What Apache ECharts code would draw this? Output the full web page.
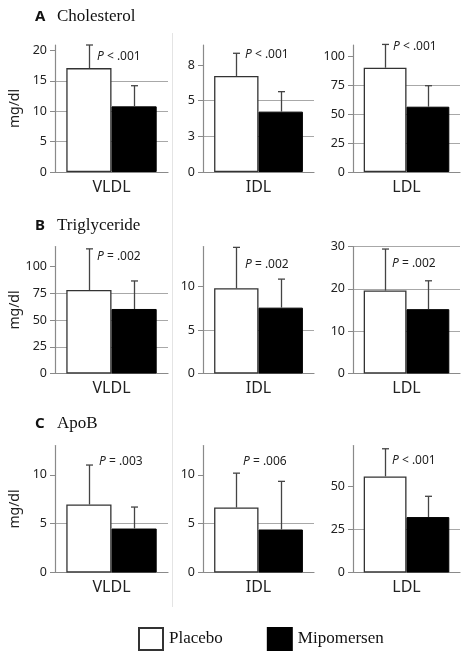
<!DOCTYPE html>
<html>
<head>
<meta charset="utf-8">
<script src="https://cdn.jsdelivr.net/npm/echarts@6/dist/echarts.min.js"></script>
<style>html,body{margin:0;padding:0;background:#fff;}#c{width:469px;height:662px;}</style>
</head>
<body>
<div id="c"></div>
<script>
// ---- data ----
const rowTitles = ['A', 'B', 'C'];
const rowNames = ['Cholesterol', 'Triglyceride', 'ApoB'];
const categories = ['VLDL', 'IDL', 'LDL'];
const seriesNames = ['Placebo', 'Mipomersen'];
const yUnit = 'mg/dl';

// mean values [VLDL, IDL, LDL]
const cholPlacebo = [17.1, 6.73, 89.9];
const cholMipo = [10.8, 4.23, 56.3];
const tgPlacebo = [78, 9.8, 19.6];
const tgMipo = [60.3, 7.57, 15.2];
const apobPlacebo = [6.96, 6.65, 56];
const apobMipo = [4.5, 4.4, 32.3];

// SD (upper error bar)
const cholPlaceboSD = [3.8, 1.59, 20.1];
const cholMipoSD = [3.4, 1.4, 18.1];
const tgPlaceboSD = [38.5, 4.7, 9.8];
const tgMipoSD = [26.2, 3.28, 6.7];
const apobPlaceboSD = [4.04, 3.52, 16.1];
const apobMipoSD = [2.2, 4.93, 12.1];

// p-value texts
const cholP = ['< .001', '< .001', '< .001'];
const tgP = ['= .002', '= .002', '= .002'];
const apobP = ['= .003', '= .006', '< .001'];

// axis maxima and ticks
const cholMax = [20.9, 8.9, 109.5];
const tgMax = [118.7, 14.6, 30];
const apobMax = [13, 13, 74];
const cholTicks = [[0, 5, 10, 15, 20], [0, 2.5, 5, 7.5], [0, 25, 50, 75, 100]];
const cholTickLabels = [['0', '5', '10', '15', '20'], ['0', '3', '5', '8'], ['0', '25', '50', '75', '100']];
const tgTicks = [[0, 25, 50, 75, 100], [0, 5, 10], [0, 10, 20, 30]];
const tgTickLabels = [['0', '25', '50', '75', '100'], ['0', '5', '10'], ['0', '10', '20', '30']];
const apobTicks = [[0, 5, 10], [0, 5, 10], [0, 25, 50]];
const apobTickLabels = [['0', '5', '10'], ['0', '5', '10'], ['0', '25', '50']];

const rows = [
  { placebo: cholPlacebo, mipo: cholMipo, psd: cholPlaceboSD, msd: cholMipoSD, p: cholP, max: cholMax, ticks: cholTicks, labels: cholTickLabels },
  { placebo: tgPlacebo, mipo: tgMipo, psd: tgPlaceboSD, msd: tgMipoSD, p: tgP, max: tgMax, ticks: tgTicks, labels: tgTickLabels },
  { placebo: apobPlacebo, mipo: apobMipo, psd: apobPlaceboSD, msd: apobMipoSD, p: apobP, max: apobMax, ticks: apobTicks, labels: apobTickLabels }
];

// ---- layout ----
const colLeft = [55, 203, 353];
const colWidth = [113, 111, 107];
const rowTop = [45, 246.5, 445.5];
const plotH = 127;
const titlePos = [[35, 18.5], [35, 227.5], [35, 425]];
const pPos = [
  [[97, 59], [245, 57], [393, 49]],
  [[97, 259], [245, 267], [392, 266]],
  [[99, 464], [243, 464], [392, 463]]
];

const chart = echarts.init(document.getElementById('c'));
const grids = [], xAxes = [], yAxes = [], series = [], graphics = [];
const sans = 'Noto Sans';
const serif = 'Liberation Serif';

function errRender(params, api) {
  const m = api.value(1), sd = api.value(2), side = api.value(3);
  const c = api.coord([api.value(0), m]);
  const t = api.coord([api.value(0), m + sd]);
  const cw = api.size([1, 0])[0];
  const bw = cw * 0.8 / 2;
  const x = Math.round(c[0] + side * bw / 2) + 0.5;
  const st = { stroke: '#444', lineWidth: 1.3 };
  return {
    type: 'group', children: [
      { type: 'line', shape: { x1: x, y1: c[1], x2: x, y2: t[1] }, style: st },
      { type: 'line', shape: { x1: x - 3.5, y1: t[1], x2: x + 3.5, y2: t[1] }, style: st }
    ]
  };
}

rows.forEach((r, ri) => {
  for (let ci = 0; ci < 3; ci++) {
    const gi = ri * 3 + ci;
    grids.push({ left: colLeft[ci], top: rowTop[ri], width: colWidth[ci], height: plotH });
    xAxes.push({
      type: 'category', gridIndex: gi, data: [categories[ci]],
      axisLine: { lineStyle: { color: '#8a8a8a', width: 1.2 } },
      axisTick: { show: false },
      axisLabel: { fontFamily: sans, fontSize: 16, color: '#222', margin: 7 }
    });
    const tv = r.ticks[ci], tl = r.labels[ci];
    const mx = r.max[ci];
    yAxes.push({
      type: 'value', gridIndex: gi, min: 0, max: mx, interval: tv[1] - tv[0],
      name: ci === 0 ? yUnit : '', nameLocation: 'middle', nameRotate: 90, nameGap: 33,
      nameTextStyle: { fontFamily: sans, fontSize: 14, color: '#222' },
      axisLine: { show: true, lineStyle: { color: '#8a8a8a', width: 1.2 } },
      axisTick: { show: true, length: 5, customValues: tv, lineStyle: { color: '#8a8a8a' } },
      axisLabel: {
        customValues: tv, fontFamily: sans, fontSize: 12.5, color: '#222', margin: 8,
        formatter: v => { const k = tv.indexOf(v); return k >= 0 ? tl[k] : ''; }
      },
      splitLine: { show: true, showMaxLine: tv[tv.length - 1] === mx, lineStyle: { color: '#a8a8a8', width: 1.2 } }
    });
    series.push({
      type: 'bar', name: seriesNames[0], xAxisIndex: gi, yAxisIndex: gi,
      data: [r.placebo[ci]], barGap: '0%', barCategoryGap: '20%',
      itemStyle: { color: '#ffffff', borderColor: '#333', borderWidth: 1.3 }
    });
    series.push({
      type: 'bar', name: seriesNames[1], xAxisIndex: gi, yAxisIndex: gi,
      data: [r.mipo[ci]], barGap: '0%', barCategoryGap: '20%',
      itemStyle: { color: '#000000', borderColor: '#000', borderWidth: 1 }
    });
    series.push({
      type: 'custom', xAxisIndex: gi, yAxisIndex: gi, renderItem: errRender, z: 5,
      data: [[0, r.placebo[ci], r.psd[ci], -1], [0, r.mipo[ci], r.msd[ci], 1]]
    });
    graphics.push({
      type: 'text', left: pPos[ri][ci][0], top: pPos[ri][ci][1] - 8,
      style: {
        text: '{i|P} ' + r.p[ci],
        rich: { i: { fontStyle: 'italic', fontFamily: sans, fontSize: 12, fill: '#222' } },
        fontFamily: sans, fontSize: 12, fill: '#222'
      }
    });
  }
  graphics.push({
    type: 'text', left: titlePos[ri][0], top: titlePos[ri][1] - 9,
    style: { text: rowTitles[ri], fontFamily: sans, fontWeight: 'bold', fontSize: 15, fill: '#111' }
  });
  graphics.push({
    type: 'text', left: titlePos[ri][0] + 22, top: titlePos[ri][1] - 10,
    style: { text: rowNames[ri], fontFamily: serif, fontSize: 17, fill: '#111' }
  });
});

graphics.push({
  type: 'line', shape: { x1: 172.5, y1: 33, x2: 172.5, y2: 607 },
  style: { stroke: '#e4e4e4', lineWidth: 1 }
});

chart.setOption({
  animation: false,
  grid: grids, xAxis: xAxes, yAxis: yAxes, series: series,
  graphic: graphics,
  legend: {
    data: seriesNames, left: 133, top: 622, itemWidth: 24, itemHeight: 22, itemGap: 44,
    icon: 'rect',
    textStyle: { fontFamily: serif, fontSize: 17, color: '#111', padding: [0, 0, 0, 1] }
  }
});
</script>
</body>
</html>
